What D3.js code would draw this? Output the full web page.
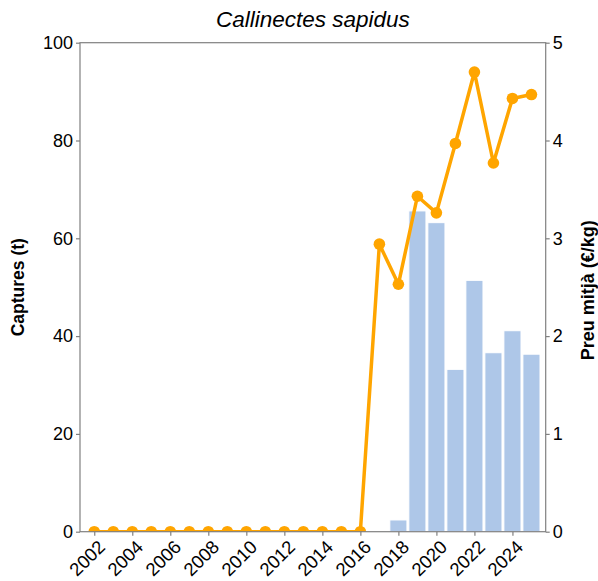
<!DOCTYPE html>
<html><head><meta charset="utf-8">
<script src="https://cdn.jsdelivr.net/npm/d3@7"></script>
<style>body{margin:0;background:#fff;} text{font-family:"Liberation Sans",Arial,sans-serif;}</style>
</head><body>
<svg id="chart" width="598" height="581"></svg>
<script>
const years = d3.range(2002, 2026);
const catchTons = [0,0,0,0,0,0,0,0,0,0,0,0,0,0,0,0,2.4,65.6,63.2,33.2,51.4,36.6,41.1,36.3];
const pricePerKg = [0,0,0,0,0,0,0,0,0,0,0,0,0,0,0,2.94,2.53,3.43,3.26,3.97,4.70,3.77,4.43,4.47];
const leftTicks = [0,20,40,60,80,100];
const rightTicks = [0,1,2,3,4,5];
const xTickYears = [2002,2004,2006,2008,2010,2012,2014,2016,2018,2020,2022,2024];
const titleText = "Callinectes sapidus";
const leftLabel = "Captures (t)";
const rightLabel = "Preu mitjà (€/kg)";

const svg = d3.select("#chart");
const L = 80, R = 545.7, T = 42.7, B = 531.7;
const x = d3.scaleLinear().domain([2001.25, 2025.75]).range([L, R]);
const yL = d3.scaleLinear().domain([0, 100]).range([B, T]);
const yR = d3.scaleLinear().domain([0, 5]).range([B, T]);
const bw = x(2002.45) - x(2002);

svg.append("defs").append("clipPath").attr("id","clip")
  .append("rect").attr("x", L).attr("y", T).attr("width", R - L).attr("height", B - T);

// bars
svg.append("g").attr("clip-path","url(#clip)").selectAll("rect")
  .data(years.map((y,i)=>({y, v: catchTons[i]})).filter(d=>d.v>0))
  .join("rect")
  .attr("x", d => x(d.y) - bw)
  .attr("width", 2*bw)
  .attr("y", d => yL(d.v))
  .attr("height", d => B - yL(d.v))
  .attr("fill", "#aec7e8")
  .attr("stroke", "#fff").attr("stroke-width", 1);

// line
const pts = years.map((y,i)=>({y, v: pricePerKg[i]}));
const g2 = svg.append("g").attr("clip-path","url(#clip)");
g2.append("path").datum(pts)
  .attr("d", d3.line().x(d=>x(d.y)).y(d=>yR(d.v)))
  .attr("fill","none").attr("stroke","#ffa500").attr("stroke-width",3.5).attr("stroke-linejoin","round");
g2.selectAll("circle").data(pts).join("circle")
  .attr("cx", d=>x(d.y)).attr("cy", d=>yR(d.v)).attr("r", 5.8).attr("fill","#ffa500");

// frame
svg.append("rect").attr("x", L).attr("y", T).attr("width", R-L).attr("height", B-T)
  .attr("fill","none").attr("stroke","#808080").attr("stroke-width",1.2);

// axes
const axStyle = g => {
  g.select(".domain").remove();
  g.selectAll(".tick line").attr("stroke","#808080").attr("stroke-width",1.2);
  g.selectAll(".tick text").attr("fill","#000").style("font-size","18px").style("font-family",'"Liberation Sans",Arial,sans-serif');
};
svg.append("g").attr("transform",`translate(${L},0)`)
  .call(d3.axisLeft(yL).tickValues(leftTicks).tickSize(4).tickPadding(3)).call(axStyle);
svg.append("g").attr("transform",`translate(${R},0)`)
  .call(d3.axisRight(yR).tickValues(rightTicks).tickFormat(d3.format("d")).tickSize(4).tickPadding(3)).call(axStyle);
const xa = svg.append("g").attr("transform",`translate(0,${B})`)
  .call(d3.axisBottom(x).tickValues(xTickYears).tickFormat(d3.format("d")).tickSize(4)).call(axStyle);
xa.selectAll(".tick text")
  .style("font-size","18.5px")
  .attr("text-anchor","end").attr("dy",null).attr("y",null)
  .attr("transform","translate(8,13) rotate(-45)")
  .attr("dominant-baseline","middle");

// title & labels
svg.append("text").attr("x", (L+R)/2).attr("y", 27).attr("text-anchor","middle")
  .style("font-size","22.5px").style("font-style","italic").text(titleText);
svg.append("text").attr("transform",`translate(24,${(T+B)/2}) rotate(-90)`).attr("text-anchor","middle")
  .style("font-size","17.5px").style("font-weight","bold").text(leftLabel);
svg.append("text").attr("transform",`translate(594,${(T+B)/2 + 3}) rotate(-90)`).attr("text-anchor","middle")
  .style("font-size","18px").style("font-weight","bold").text(rightLabel);
</script>
</body></html>
